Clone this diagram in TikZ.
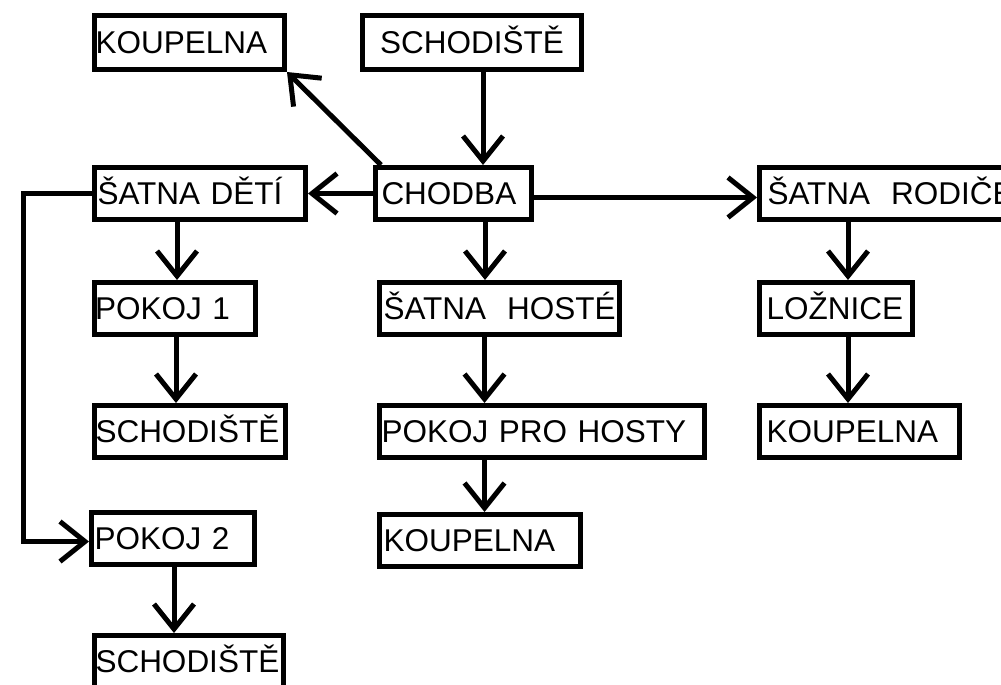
\documentclass[tikz,border=0pt]{standalone}
\usepackage{fontspec}
\setmainfont{Liberation Sans}
\usetikzlibrary{arrows.meta}
\tikzset{
  room/.style={draw, line width=5pt, inner ysep=0pt, align=left,
    text height=22.5pt, text depth=0pt, minimum height=52pt,
    font=\fontsize{31.5pt}{36pt}\selectfont},
  arr/.style={line width=5pt, -{Straight Barb[length=25pt, width=40pt]}},
  plain/.style={line width=5pt}
}
\begin{document}
\begin{tikzpicture}[x=1pt,y=-1pt]
\useasboundingbox (0,0) rectangle (1001,685);
\clip (0,0) rectangle (1001,685);
% boxes
\node[room, minimum height=54pt, inner xsep=1pt, text width=188pt] (kt) at (189.5,42.5) {KOUPELNA};
\node[room, minimum height=54pt, inner xsep=17.5pt, text width=184pt] (st) at (472,42.5) {SCHODIŠTĚ};
\node[room, inner xsep=3pt, text width=205pt] (sd) at (200,193.5) {ŠATNA DĚTÍ};
\node[room, inner xsep=6pt, text width=143.5pt] (ch) at (453.25,193.5) {CHODBA};
\node[room, inner xsep=8pt, text width=248pt] (sr) at (891.5,193.5) {ŠATNA~~RODIČE};
\node[room, inner xsep=7pt, text width=139pt] (lz) at (836,308.5) {LOŽNICE};
\node[room, inner xsep=7pt, text width=186pt] (kr) at (859.5,431.5) {KOUPELNA};
\node[room, inner xsep=4pt, text width=232pt] (sh) at (499.5,308.5) {ŠATNA~~HOSTÉ};
\node[room, inner xsep=2pt, text width=321pt] (pp) at (542,431.5) {POKOJ PRO HOSTY};
\node[room, inner xsep=4pt, text width=193pt] (km) at (480,540.5) {KOUPELNA};
\node[room, inner xsep=1pt, text width=159.5pt] (p1) at (174.75,308.5) {POKOJ 1};
\node[room, inner xsep=1.5pt, text width=188.5pt] (s1) at (189.75,431.5) {SCHODIŠTĚ};
\node[room, inner xsep=3pt, text width=157pt] (p2) at (173,538.5) {POKOJ 2};
\node[room, inner xsep=1.5pt, text width=186.5pt] (s2) at (188.75,661.5) {SCHODIŠTĚ};
% connectors
\draw[arr] ([xshift=11pt]st.south) -- ([xshift=29.75pt]ch.north);
\draw[arr] ([xshift=8pt]ch.north west) -- (kt.south east);
\draw[arr] (ch.west) -- (sd.east);
\draw[arr] ([yshift=-4pt]ch.east) -- ([yshift=-4pt]sr.west);
\draw[arr] (sd.west) -- ++(-68.5,0) |- ([yshift=-3pt]p2.west);
\draw[arr] ([xshift=-23pt]sd.south) -- ([xshift=2.25pt]p1.north);
\draw[arr] ([xshift=1.25pt]p1.south) -- ([xshift=-13.75pt]s1.north);
\draw[arr] ([xshift=1pt]p2.south) -- ([xshift=-14.75pt]s2.north);
\draw[arr] ([xshift=31.75pt]ch.south) -- ([xshift=-14.5pt]sh.north);
\draw[arr] ([xshift=-15pt]sh.south) -- ([xshift=-57.5pt]pp.north);
\draw[arr] ([xshift=-57.5pt]pp.south) -- ([xshift=4.5pt]km.north);
\draw[arr] ([xshift=-43.5pt]sr.south) -- ([xshift=12pt]lz.north);
\draw[arr] ([xshift=12pt]lz.south) -- ([xshift=-11.5pt]kr.north);
\end{tikzpicture}
\end{document}
